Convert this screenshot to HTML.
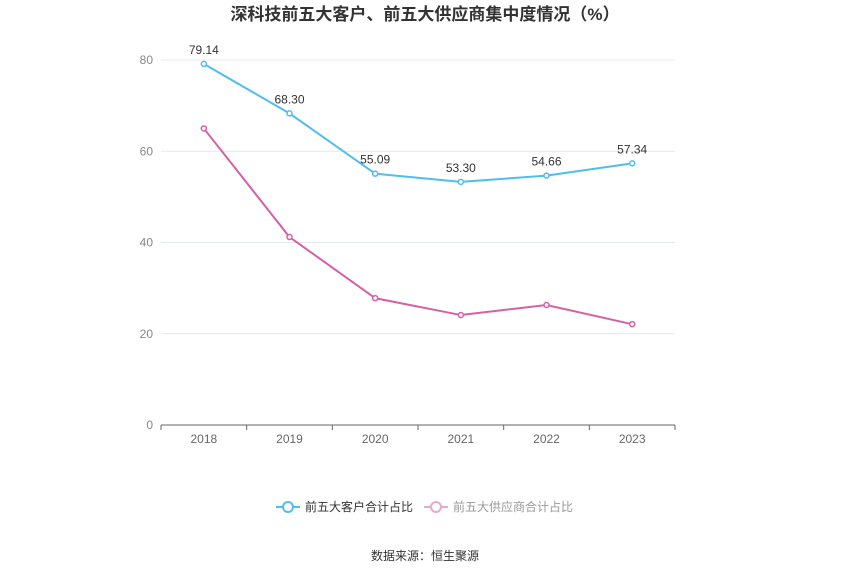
<!DOCTYPE html>
<html><head><meta charset="utf-8"><style>
body{margin:0;background:#fff;font-family:"Liberation Sans","Noto Sans CJK SC",sans-serif;}
</style></head><body>
<svg id="c" width="850" height="574" xmlns="http://www.w3.org/2000/svg" font-family="Liberation Sans, Noto Sans CJK SC, sans-serif">
<text x="425" y="20" text-anchor="middle" font-size="17" font-weight="bold" fill="#333">深科技前五大客户、前五大供应商集中度情况（%）</text>
<g id="grid"></g><g id="axes"></g><g id="series"></g>
<g>
<g>
<line x1="276" y1="507" x2="300" y2="507" stroke="#4fbdf2" stroke-width="2"/><circle cx="288" cy="507" r="5" fill="#fff" stroke="#4fbdf2" stroke-width="2"/>
<text x="305" y="511" font-size="12" fill="#333">前五大客户合计占比</text></g>
<g>
<line x1="424" y1="507" x2="448" y2="507" stroke="#e9a8cf" stroke-width="2"/><circle cx="436" cy="507" r="5" fill="#fff" stroke="#e9a8cf" stroke-width="2"/>
<text x="453" y="511" font-size="12" fill="#999">前五大供应商合计占比</text></g>
</g>
<text x="425" y="560" text-anchor="middle" font-size="12" fill="#333">数据来源：恒生聚源</text>
</svg>
<script>
const categories=["2018","2019","2020","2021","2022","2023"];
const customers=[79.14,68.30,55.09,53.30,54.66,57.34];
const suppliers=[65.0,41.2,27.8,24.1,26.3,22.1];
const yTicks=[0,20,40,60,80];
const NS="http://www.w3.org/2000/svg";
const L=161,R=675,T=60,B=425,ymax=80;
const bw=(R-L)/categories.length;
const x=i=>L+bw*(i+0.5);
const y=v=>B-(v/ymax)*(B-T);
function mk(p,t,a){const e=document.createElementNS(NS,t);for(const k in a)e.setAttribute(k,a[k]);p.appendChild(e);return e;}
const grid=document.getElementById('grid'),axes=document.getElementById('axes'),ser=document.getElementById('series');
yTicks.forEach(t=>{
 if(t>0){const g=mk(grid,'line',{x1:L,x2:R,y1:y(t),y2:y(t),stroke:'#e3e8f0'});
 
 }
 const tx=mk(axes,'text',{x:153,y:y(t)+4,'text-anchor':'end','font-size':12,fill:'#888'});tx.textContent=t;
 
 
});
const ax=mk(axes,'line',{x1:L,x2:R,y1:B,y2:B,stroke:'#666'});


categories.forEach((c,i)=>{
 mk(axes,'line',{x1:L+bw*i,x2:L+bw*i,y1:B,y2:B+5,stroke:'#666'});
 const tx=mk(axes,'text',{x:x(i),y:B+18,'text-anchor':'middle','font-size':12,fill:'#666'});tx.textContent=c;
 
 
});
mk(axes,'line',{x1:R,x2:R,y1:B,y2:B+5,stroke:'#666'});
function draw(vals,color,name,labels){
 const pl=mk(ser,'polyline',{points:vals.map((v,i)=>x(i)+','+y(v)).join(' '),fill:'none',stroke:color,'stroke-width':2});
 
 
 vals.forEach((v,i)=>{
  const c=mk(ser,'circle',{cx:x(i),cy:y(v),r:2.5,fill:'#fff',stroke:color,'stroke-width':1.5});
  
  
  if(labels){const t=mk(ser,'text',{x:x(i),y:y(v)-10,'text-anchor':'middle','font-size':12,fill:'#333'});t.textContent=v.toFixed(2);
  
  }
 });
}
draw(suppliers,'#d65fa5','suppliers',false);
draw(customers,'#4fbdf2','customers',true);
</script>
</body></html>
